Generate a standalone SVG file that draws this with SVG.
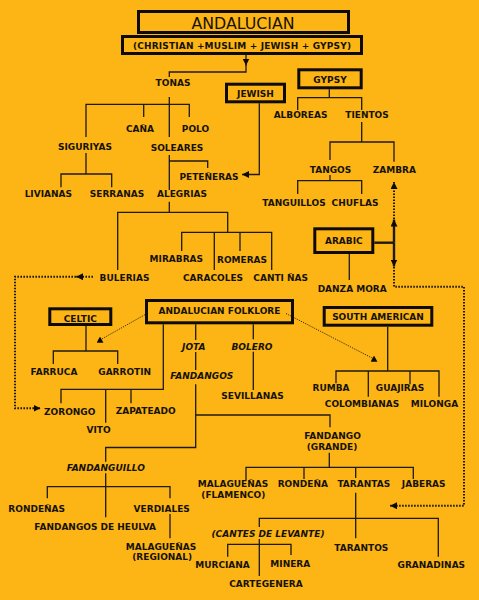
<svg xmlns="http://www.w3.org/2000/svg" width="479" height="600" viewBox="0 0 479 600">
<defs>
<style>
.t{font-family:"DejaVu Sans","Liberation Sans",sans-serif;font-weight:bold;font-size:9px;fill:#161208;text-anchor:middle}
.i{font-style:italic}
.h{font-family:"DejaVu Sans","Liberation Sans",sans-serif;font-size:15.8px;fill:#161208;text-anchor:middle}
.box{fill:none;stroke:#0e0b05;stroke-width:3}
.ln{fill:none;stroke:#1f1a10;stroke-width:1.3}
.thick{fill:none;stroke:#1f1a10;stroke-width:2.4}
.dot{fill:none;stroke:#1f1a10;stroke-width:2;stroke-dasharray:1.6 1.4}
.thin{fill:none;stroke:#1f1a10;stroke-width:0.9;stroke-dasharray:1.2 1.2}
</style>
<marker id="ah" viewBox="0 0 10 10" refX="10" refY="5" markerUnits="userSpaceOnUse" markerWidth="7" markerHeight="7" orient="auto">
<path d="M0,0 L10,5 L0,10 z" fill="#0e0b05"/>
</marker>
<marker id="tri" viewBox="0 0 10 10" refX="5" refY="5" markerUnits="userSpaceOnUse" markerWidth="7" markerHeight="7" orient="0">
<path d="M5,0 L10,9 L0,9 z" fill="#0e0b05"/>
</marker>
</defs>
<rect width="479" height="600" fill="#FCB515"/>

<g id="connectors">
<path class="ln" d="M246,55 V65.5" marker-end="url(#ah)"/>
<path class="ln" d="M246,64 V72 H169.3 V77"/>
<path class="ln" d="M169.3,97 V137 M86,137 V104.3 H189.3 V117 M143.7,104.3 V117"/>
<path class="ln" d="M86,153 V174 M61,187.3 V174 H111.7 V187.3"/>
<path class="ln" d="M169.3,155 V190 M169.3,161 H207.7 V168"/>
<path class="ln" d="M259.3,103.3 V174.5 H242" marker-end="url(#ah)"/>
<path class="ln" d="M329.3,89.3 V97.7 M297.7,110 V97.7 H361.7 V110"/>
<path class="ln" d="M361.7,122 V142 M330,160 V142 H394 V161.7"/>
<path class="ln" d="M330,175 V180.7 M297.7,194 V180.7 H361.7 V194"/>
<path class="ln" d="M169.3,201.7 V212.3 M117.7,270 V212.3 H227.7 V232.3 M181.7,251 V232.3 H271.7 V270 M214.3,232.3 V270 M240,232.3 V251"/>
<path class="thick" d="M374.3,242.7 H394"/>
<path class="ln" d="M349.3,254 V280"/>
<path class="thick" d="M394,242.7 V219.5" marker-end="url(#ah)"/>
<path class="thick" d="M394,242.7 V266.5" marker-end="url(#ah)"/>
<path class="dot" d="M394,219 V182" marker-end="url(#ah)"/>
<path class="dot" d="M394,267 V286.7 H464 V505.7 H390" marker-end="url(#ah)"/>
<path class="dot" d="M93,276.7 H76" marker-end="url(#ah)"/>
<path class="dot" d="M76,276.7 H15 V408.3 H40.5" marker-end="url(#ah)"/>
<path class="ln" d="M86,326 V351 M53.3,364 V351 H117.7 V364"/>
<path class="thin" d="M147,313.5 L100,340" marker-end="url(#tri)"/>
<path class="thin" d="M286,313.5 L374,359" marker-end="url(#tri)"/>
<path class="ln" d="M163.3,324.3 V389.3 H61 V403.3 M105.7,389.3 V422.7 M131,389.3 V403.3"/>
<path class="ln" d="M195.7,324.3 V340 M195.7,352 V370 M195.7,384.3 V447.5 H105.7 V461.7 M195.7,415 H330 V427.3"/>
<path class="ln" d="M253.3,324.3 V339.3 M253.3,351.7 V390"/>
<path class="ln" d="M387.7,326.7 V371 M336,383.3 V371 H439 V396.7 M368.3,371 V396.7 M410,371 V384.3"/>
<path class="ln" d="M329.3,452.7 V467.3 M246,480 V467.3 H413.3 V479 M304,467.3 V479 M355.7,467.3 V478 M355.7,492.7 V538.3"/>
<path class="ln" d="M259.3,527 V518.3 H438.3 V556.7 M259.3,539 V576"/>
<path class="ln" d="M227.7,556.7 V544.3 H291 V555"/>
<path class="ln" d="M105.7,473.3 V517.3 M47.3,498.3 V486.7 H170 V498.3 M170,514 V538.3"/>
</g>

<g id="andalucian">
<rect class="box" x="138.5" y="11.5" width="210" height="21"/>
<text class="h" x="243" y="29">ANDALUCIAN</text>
</g>
<g id="origins">
<rect class="box" x="122.5" y="36.5" width="239" height="17"/>
<text class="t" x="242" y="49" textLength="218" lengthAdjust="spacing">(CHRISTIAN +MUSLIM + JEWISH + GYPSY)</text>
</g>
<g id="jewish">
<rect class="box" x="226.5" y="84.2" width="58" height="17.6"/>
<text class="t" x="255.5" y="96.8">JEWISH</text>
</g>
<g id="gypsy">
<rect class="box" x="298.8" y="69.8" width="62.4" height="18"/>
<text class="t" x="330" y="82.5">GYPSY</text>
</g>
<g id="arabic">
<rect class="box" x="314.8" y="228.8" width="58" height="23.7"/>
<text class="t" x="343.8" y="244">ARABIC</text>
</g>
<g id="celtic">
<rect class="box" x="49.8" y="308.8" width="61" height="15.7"/>
<text class="t" x="80.3" y="321.5">CELTIC</text>
</g>
<g id="folklore">
<rect class="box" x="146.5" y="300.5" width="146" height="22.3"/>
<text class="t" x="219.5" y="314.2">ANDALUCIAN FOLKLORE</text>
</g>
<g id="southamerican">
<rect class="box" x="324.2" y="307.5" width="107.6" height="17.7"/>
<text class="t" x="378" y="320.2">SOUTH AMERICAN</text>
</g>

<g id="tonas"><text class="t" x="173" y="86">TONAS</text></g>
<g id="cana"><text class="t" x="140" y="131.5">CAÑA</text></g>
<g id="polo"><text class="t" x="195.5" y="131.5">POLO</text></g>
<g id="siguiriyas"><text class="t" x="85" y="150.3">SIGURIYAS</text></g>
<g id="soleares"><text class="t" x="177" y="150.5">SOLEARES</text></g>
<g id="petenera"><text class="t" x="209" y="180">PETEÑERAS</text></g>
<g id="livianas"><text class="t" x="48.3" y="197.2">LIVIANAS</text></g>
<g id="serranas"><text class="t" x="117" y="197.2">SERRANAS</text></g>
<g id="alegrias"><text class="t" x="182" y="197.3">ALEGRIAS</text></g>
<g id="alboreas"><text class="t" x="300.5" y="118">ALBOREAS</text></g>
<g id="tientos"><text class="t" x="367" y="118">TIENTOS</text></g>
<g id="tangos"><text class="t" x="330.5" y="172.7">TANGOS</text></g>
<g id="zambra"><text class="t" x="394.3" y="172.7">ZAMBRA</text></g>
<g id="tanguillos"><text class="t" x="294" y="206">TANGUILLOS</text></g>
<g id="chuflas"><text class="t" x="355" y="206">CHUFLAS</text></g>
<g id="mirabras"><text class="t" x="176.3" y="261.7">MIRABRAS</text></g>
<g id="romeras"><text class="t" x="242" y="262.7">ROMERAS</text></g>
<g id="bulerias"><text class="t" x="124.5" y="280.7">BULERIAS</text></g>
<g id="caracoles"><text class="t" x="213" y="281.3">CARACOLES</text></g>
<g id="cantinas"><text class="t" x="280.7" y="281">CANTI ÑAS</text></g>
<g id="danzamora"><text class="t" x="352.2" y="291.7">DANZA MORA</text></g>
<g id="farruca"><text class="t" x="54" y="375">FARRUCA</text></g>
<g id="garrotin"><text class="t" x="124.7" y="375.3">GARROTIN</text></g>
<g id="jota"><text class="t i" x="193.8" y="350">JOTA</text></g>
<g id="bolero"><text class="t i" x="252" y="350">BOLERO</text></g>
<g id="fandangos"><text class="t i" x="201.8" y="379.3">FANDANGOS</text></g>
<g id="sevillanas"><text class="t" x="252.5" y="399.3">SEVILLANAS</text></g>
<g id="rumba"><text class="t" x="331" y="391">RUMBA</text></g>
<g id="guajiras"><text class="t" x="400" y="391">GUAJIRAS</text></g>
<g id="colombianas"><text class="t" x="362" y="407.3">COLOMBIANAS</text></g>
<g id="milonga"><text class="t" x="434.5" y="407.3">MILONGA</text></g>
<g id="zorongo"><text class="t" x="69.7" y="415">ZORONGO</text></g>
<g id="zapateado"><text class="t" x="145.7" y="414.3">ZAPATEADO</text></g>
<g id="vito"><text class="t" x="98.5" y="432.7">VITO</text></g>
<g id="fandangogrande"><text class="t" x="332.5" y="439.3">FANDANGO</text><text class="t" x="332" y="450">(GRANDE)</text></g>
<g id="fandanguillo"><text class="t i" x="105.8" y="471">FANDANGUILLO</text></g>
<g id="malaguenasflamenco"><text class="t" x="233" y="487.3">MALAGUEÑAS</text><text class="t" x="233.3" y="498.3">(FLAMENCO)</text></g>
<g id="rondena"><text class="t" x="302.8" y="487.3">RONDEÑA</text></g>
<g id="tarantas"><text class="t" x="363.8" y="487.3">TARANTAS</text></g>
<g id="jaberas"><text class="t" x="423.7" y="487.3">JABERAS</text></g>
<g id="rondenas"><text class="t" x="36.7" y="511.7">RONDEÑAS</text></g>
<g id="verdiales"><text class="t" x="161.7" y="511.7">VERDIALES</text></g>
<g id="fandangosheulva"><text class="t" x="95.2" y="530">FANDANGOS DE HEULVA</text></g>
<g id="malaguenasregional"><text class="t" x="161" y="550">MALAGUEÑAS</text><text class="t" x="162.2" y="560">(REGIONAL)</text></g>
<g id="levante"><text class="t i" x="268" y="536.5">(CANTES DE LEVANTE)</text></g>
<g id="tarantos"><text class="t" x="361.3" y="550.7">TARANTOS</text></g>
<g id="murciana"><text class="t" x="222.5" y="568.3">MURCIANA</text></g>
<g id="minera"><text class="t" x="290.3" y="567.3">MINERA</text></g>
<g id="granadinas"><text class="t" x="431.3" y="568.3">GRANADINAS</text></g>
<g id="cartegenera"><text class="t" x="266" y="586.7">CARTEGENERA</text></g>
</svg>
